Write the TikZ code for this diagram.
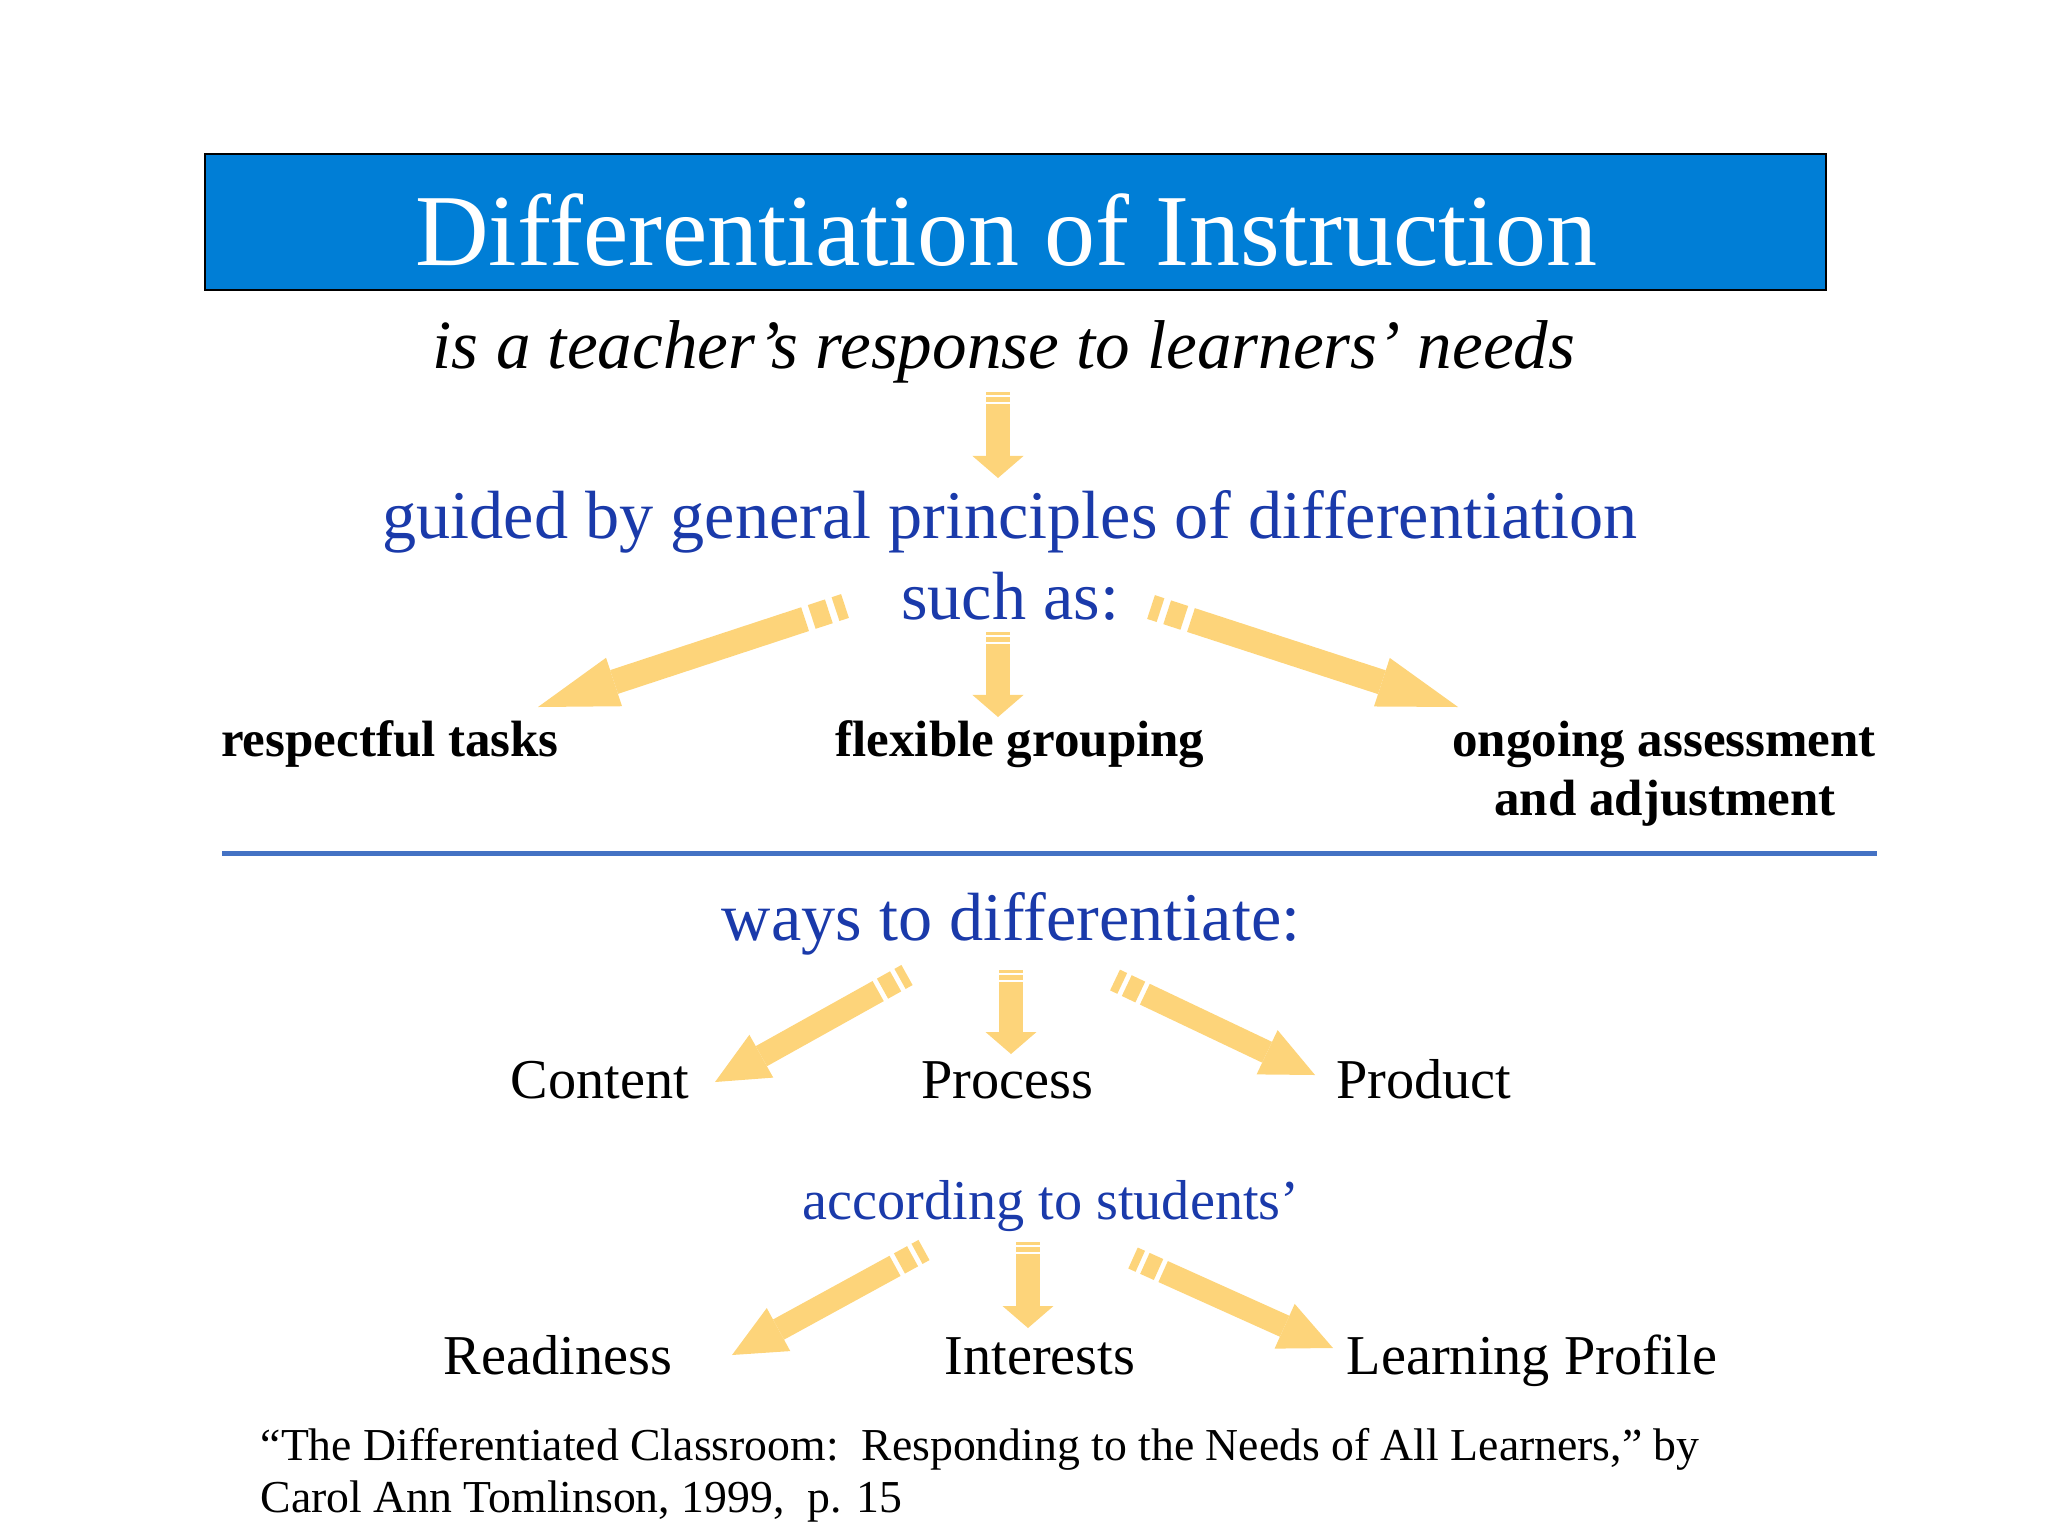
\documentclass[tikz,border=0pt]{standalone}
\usepackage{fontspec}
\setmainfont{Liberation Serif}
\usetikzlibrary{arrows.meta}

\definecolor{titleblue}{RGB}{0,126,214}
\definecolor{textblue}{RGB}{26,58,170}
\definecolor{ruleblue}{RGB}{68,114,196}
\definecolor{arrowyellow}{RGB}{253,212,122}

\tikzset{
  downarrow/.style={draw=arrowyellow, line width=0.24cm,
    -{Triangle[width=0.51cm,length=0.22cm,line width=0pt]},
    dash pattern=on 0.03cm off 0.02cm on 0.05cm off 0.02cm on 20cm off 0cm},
  slantarrow/.style={draw=arrowyellow, line width=0.25cm,
    -{Triangle[width=0.51cm,length=0.8cm,line width=0pt]},
    dash pattern=on 0.1cm off 0.07cm on 0.18cm off 0.07cm on 20cm off 0cm},
  smallslant/.style={draw=arrowyellow, line width=0.23cm,
    -{Triangle[width=0.49cm,length=0.53cm,line width=0pt]},
    dash pattern=on 0.08cm off 0.05cm on 0.15cm off 0.05cm on 20cm off 0cm},
  bluetext/.style={text=textblue, inner sep=0pt, anchor=base},
  plaintext/.style={inner sep=0pt, anchor=base}
}

\begin{document}
\begin{tikzpicture}[x=0.01cm,y=-0.01cm]

\useasboundingbox (0,0) rectangle (2048,1536);

\filldraw[fill=titleblue, draw=black, line width=0.8pt] (205,154) rectangle (1826,290);
\node (title) [plaintext, text=white, font=\fontsize{29}{34}\selectfont] at (1006,265) {Differentiation of Instruction};

\node (subtitle) [plaintext, font=\fontsize{19.65}{23}\selectfont\itshape] at (1004,368) {is a teacher’s response to learners’ needs};

\coordinate (a1s) at (998,392);
\coordinate (a1e) at (998,478);
\draw [downarrow] (a1s) -- (a1e);

\node (guided) [bluetext, font=\fontsize{19.4}{23}\selectfont] at (1010,538) {guided by general principles of differentiation};
\node (suchas) [bluetext, font=\fontsize{19.4}{23}\selectfont] at (1010,619) {such as:};

% principles
\coordinate (p1s) at (845,606);
\coordinate (p1e) at (538,707);
\coordinate (p2s) at (998,632);
\coordinate (p2e) at (998,717);
\coordinate (p3s) at (1151,607);
\coordinate (p3e) at (1458,707);
\draw [slantarrow] (p1s) -- (p1e);
\draw [downarrow] (p2s) -- (p2e);
\draw [slantarrow] (p3s) -- (p3e);

\node (tasks) [plaintext, font=\fontsize{14.5}{17}\selectfont\bfseries] at (390,756) {respectful tasks};
\node (grouping) [plaintext, font=\fontsize{14.5}{17}\selectfont\bfseries] at (1020,756) {flexible grouping};
\node (assess) [plaintext, font=\fontsize{14.5}{17}\selectfont\bfseries] at (1664,756) {ongoing assessment};
\node (adjust) [plaintext, font=\fontsize{14.5}{17}\selectfont\bfseries] at (1665,815) {and adjustment};

\draw [color=ruleblue, line width=0.05cm] (222,853) -- (1877,853);

\node (ways) [bluetext, font=\fontsize{19.4}{23}\selectfont] at (1011,940) {ways to differentiate:};

% ways
\coordinate (w1s) at (907,975);
\coordinate (w1e) at (715,1082);
\coordinate (w2s) at (1011,970);
\coordinate (w2e) at (1011,1054);
\coordinate (w3s) at (1115,980);
\coordinate (w3e) at (1315,1075);
\draw [smallslant] (w1s) -- (w1e);
\draw [downarrow] (w2s) -- (w2e);
\draw [smallslant] (w3s) -- (w3e);

\node (content) [plaintext, font=\fontsize{16}{19}\selectfont] at (600,1098) {Content};
\node (process) [plaintext, font=\fontsize{16}{19}\selectfont] at (1007,1098) {Process};
\node (product) [plaintext, font=\fontsize{16}{19}\selectfont] at (1424,1098) {Product};

\node (according) [bluetext, font=\fontsize{16}{19}\selectfont] at (1051,1219) {according to students’};

% students
\coordinate (s1s) at (924,1250);
\coordinate (s1e) at (732,1355);
\coordinate (s2s) at (1028,1242);
\coordinate (s2e) at (1028,1328);
\coordinate (s3s) at (1133,1258);
\coordinate (s3e) at (1333,1348);
\draw [smallslant] (s1s) -- (s1e);
\draw [downarrow] (s2s) -- (s2e);
\draw [smallslant] (s3s) -- (s3e);

\node (readiness) [plaintext, font=\fontsize{16}{19}\selectfont] at (558,1374) {Readiness};
\node (interests) [plaintext, font=\fontsize{16}{19}\selectfont] at (1040,1374) {Interests};
\node (profile) [plaintext, font=\fontsize{16}{19}\selectfont] at (1532,1374) {Learning Profile};

\node (cite1) [plaintext, anchor=base west, font=\fontsize{13}{16}\selectfont] at (260,1460) {“The Differentiated Classroom:\ \ Responding to the Needs of All Learners,” by};
\node (cite2) [plaintext, anchor=base west, font=\fontsize{13}{16}\selectfont] at (260,1512) {Carol Ann Tomlinson, 1999,\ \ p. 15};

\end{tikzpicture}
\end{document}
